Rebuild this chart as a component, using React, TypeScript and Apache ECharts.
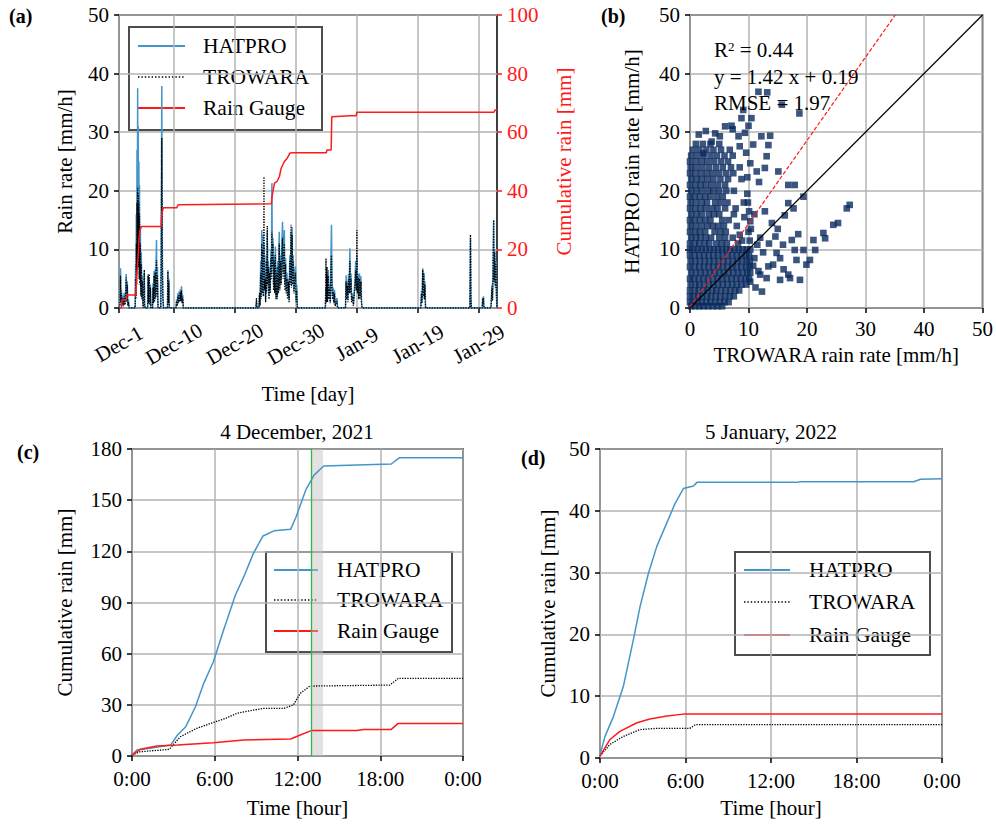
import React, { useEffect, useRef } from 'react';
import * as echarts from 'echarts';

const FONT = 'Liberation Serif';
const BLUE = '#4596c8';
const RED = '#ff1a1a';
const NAVY = '#0a2a5e';
const GRID_GRAY = '#b3b3b3';

// ---------- Panel (a): rain rate time series (x = days since 1 Dec 2021) ----------
const A_TICK_DAYS = [0, 9, 19, 29, 39, 49, 59];
const A_TICK_LABELS = ['Dec-1', 'Dec-10', 'Dec-20', 'Dec-30', 'Jan-9', 'Jan-19', 'Jan-29'];

const HATPRO_RATE: [number, number][] = [
  [0, 0], [0.15, 0.6], [0.25, 6.8], [0.32, 1.5], [0.4, 3.2], [0.48, 0.8], [0.58, 2.1], [0.7, 0.5], [0.85, 2.6], [0.95, 0.7], [1.05, 1.8], [1.18, 5.8], [1.26, 1.2], [1.35, 4.6], [1.45, 0.5], [1.55, 1.4], [1.65, 0],
  [2.65, 0], [2.72, 7.5], [2.78, 2], [2.84, 16], [2.9, 6], [2.95, 27], [3.0, 11], [3.06, 37.5], [3.11, 17], [3.16, 31], [3.21, 9], [3.26, 25], [3.31, 7], [3.36, 21], [3.42, 5], [3.5, 14], [3.58, 3], [3.66, 9.5], [3.74, 2], [3.82, 5.5], [3.9, 1], [4.0, 0],
  [4.1, 0], [4.15, 6.0], [4.2, 0.5], [4.3, 0],
  [4.7, 0], [4.78, 5.8], [4.85, 1], [4.95, 5.2], [5.05, 0.8], [5.15, 4.0], [5.22, 0],
  [5.5, 0], [5.58, 4.2], [5.65, 1], [5.75, 6.3], [5.82, 1.5], [5.92, 6.6], [6.0, 2], [6.08, 8], [6.15, 11.6], [6.22, 3], [6.3, 7], [6.4, 0],
  [6.85, 0], [6.92, 9], [6.97, 25], [7.02, 37.9], [7.07, 20], [7.12, 8], [7.2, 2], [7.3, 0],
  [7.95, 0], [8.02, 6.5], [8.1, 1], [8.18, 5], [8.25, 0],
  [9.35, 0], [9.45, 1.5], [9.55, 0.5], [9.65, 2.5], [9.75, 1], [9.85, 2.8], [9.95, 1.2], [10.05, 3.2], [10.15, 1.5], [10.25, 3.7], [10.35, 1], [10.45, 2.2], [10.55, 0],
  [22.45, 0], [22.55, 1.2], [22.62, 0],
  [22.95, 0], [23.05, 2.2], [23.12, 0.5], [23.25, 8], [23.32, 2], [23.42, 13.3], [23.5, 3], [23.6, 12.5], [23.68, 2], [23.78, 11], [23.85, 4], [23.95, 6], [24.05, 1.5], [24.15, 9], [24.22, 3], [24.32, 13], [24.4, 5], [24.5, 8], [24.6, 2], [24.7, 7], [24.8, 3], [24.92, 10], [25.0, 6], [25.08, 21.3], [25.15, 8], [25.25, 12], [25.35, 4], [25.45, 9], [25.55, 3], [25.65, 10.5], [25.75, 2], [25.85, 7], [25.95, 2], [26.05, 8], [26.15, 3], [26.28, 13], [26.38, 4], [26.5, 9], [26.6, 5], [26.72, 11], [26.82, 14.7], [26.92, 6], [27.02, 9], [27.12, 13.3], [27.2, 4], [27.32, 8.5], [27.42, 3], [27.55, 6], [27.65, 2], [27.78, 5], [27.9, 1.5], [28.02, 9], [28.12, 5], [28.22, 13], [28.3, 4], [28.4, 13.8], [28.48, 5], [28.58, 9], [28.7, 3], [28.82, 6], [28.95, 7.1], [29.05, 1.5], [29.15, 4], [29.25, 0],
  [33.85, 0], [33.95, 3.5], [34.02, 1], [34.12, 5], [34.2, 1.5], [34.32, 6.5], [34.42, 2], [34.55, 4], [34.65, 1], [34.75, 8], [34.85, 14.2], [34.93, 5], [35.02, 2], [35.12, 3.5], [35.22, 1], [35.35, 3.1], [35.45, 0.5], [35.6, 1], [35.75, 1.7], [35.85, 0],
  [37.15, 0], [37.25, 5.6], [37.33, 2], [37.45, 4.5], [37.55, 1.5], [37.65, 5.8], [37.75, 3], [37.87, 10.2], [37.95, 3], [38.05, 5.9], [38.15, 1.5], [38.3, 2.5], [38.45, 0.5], [38.6, 3], [38.72, 5], [38.82, 8], [38.92, 4], [39.02, 9], [39.1, 3], [39.22, 5.9], [39.32, 2], [39.45, 5.9], [39.55, 2], [39.68, 5.4], [39.78, 1], [39.88, 0],
  [49.5, 0], [49.62, 3], [49.7, 1], [49.82, 6.8], [49.9, 2.5], [50.0, 6], [50.08, 2], [50.18, 4.5], [50.28, 0],
  [57.55, 0], [57.65, 12.0], [57.72, 2], [57.8, 0],
  [59.58, 0], [59.65, 1.8], [59.72, 0.8], [59.78, 2], [59.85, 0],
  [61.0, 0], [61.1, 2], [61.18, 4], [61.26, 1.5], [61.35, 6], [61.45, 15.0], [61.52, 5], [61.62, 10], [61.72, 4], [61.82, 8], [61.92, 2], [62, 0],
];

const TROWARA_RATE: [number, number][] = [
  [0, 0], [0.15, 0.4], [0.25, 5.5], [0.32, 1], [0.4, 2.6], [0.48, 0.5], [0.58, 1.6], [0.7, 0.3], [0.85, 2], [0.95, 0.5], [1.05, 1.3], [1.18, 5.2], [1.26, 1], [1.35, 4], [1.45, 0.4], [1.55, 1], [1.65, 0],
  [2.65, 0], [2.72, 5], [2.78, 1.5], [2.84, 11], [2.9, 4], [2.95, 18], [3.0, 8], [3.06, 20.5], [3.11, 12], [3.16, 19.5], [3.21, 7], [3.26, 18], [3.31, 5], [3.36, 16], [3.42, 4], [3.5, 11], [3.58, 2], [3.66, 7.5], [3.74, 1.5], [3.82, 4.5], [3.9, 0.8], [4.0, 0],
  [4.1, 0], [4.15, 6.5], [4.2, 0.5], [4.3, 0],
  [4.7, 0], [4.78, 5.5], [4.85, 0.8], [4.95, 5.8], [5.05, 0.5], [5.15, 3.5], [5.22, 0],
  [5.5, 0], [5.58, 3.5], [5.65, 0.8], [5.75, 5.5], [5.82, 1], [5.92, 6], [6.0, 1.5], [6.08, 6.5], [6.15, 8.2], [6.22, 2], [6.3, 5.5], [6.4, 0],
  [6.85, 0], [6.92, 7], [6.97, 18], [7.02, 29], [7.07, 15], [7.12, 6], [7.2, 1.5], [7.3, 0],
  [7.95, 0], [8.02, 6.2], [8.1, 0.8], [8.18, 4.5], [8.25, 0],
  [9.35, 0], [9.45, 1.2], [9.55, 0.3], [9.65, 2], [9.75, 0.8], [9.85, 2.3], [9.95, 1], [10.05, 2.7], [10.15, 1.2], [10.25, 3.0], [10.35, 0.8], [10.45, 1.8], [10.55, 0],
  [22.45, 0], [22.55, 1.7], [22.62, 0],
  [22.95, 0], [23.05, 2.6], [23.12, 0.4], [23.25, 6], [23.32, 1.5], [23.42, 11], [23.5, 2.5], [23.6, 10], [23.68, 2], [23.78, 22.4], [23.85, 3], [23.95, 5], [24.05, 1], [24.15, 8], [24.22, 2.5], [24.32, 14], [24.4, 4], [24.5, 7], [24.6, 1.5], [24.7, 6], [24.8, 2.5], [24.92, 8.5], [25.0, 5], [25.08, 13], [25.15, 7], [25.25, 11], [25.35, 3], [25.45, 8], [25.55, 2.5], [25.65, 9], [25.75, 1.5], [25.85, 6], [25.95, 1.5], [26.05, 7], [26.15, 2.5], [26.28, 11], [26.38, 3], [26.5, 8], [26.6, 4], [26.72, 9.5], [26.82, 12], [26.92, 5], [27.02, 8], [27.12, 11], [27.2, 3], [27.32, 7.5], [27.42, 2.5], [27.55, 5], [27.65, 1.5], [27.78, 4.5], [27.9, 1], [28.02, 8], [28.12, 4], [28.22, 14.2], [28.3, 3.5], [28.4, 12.5], [28.48, 4], [28.58, 8], [28.7, 2.5], [28.82, 5], [28.95, 6], [29.05, 1], [29.15, 3], [29.25, 0],
  [33.85, 0], [33.95, 8.5], [34.02, 1], [34.12, 7], [34.2, 1], [34.32, 5.5], [34.42, 1.5], [34.55, 3.5], [34.65, 0.8], [34.75, 6], [34.85, 9], [34.93, 3.5], [35.02, 1.5], [35.12, 2.8], [35.22, 0.8], [35.35, 2.5], [35.45, 0.3], [35.6, 0.8], [35.75, 1.2], [35.85, 0],
  [37.15, 0], [37.25, 4.5], [37.33, 1.5], [37.45, 3.8], [37.55, 1], [37.65, 5], [37.75, 2.5], [37.87, 8], [37.95, 2.5], [38.05, 5], [38.15, 1], [38.3, 2], [38.45, 0.4], [38.6, 2.5], [38.72, 4], [38.82, 6.5], [38.92, 3], [39.02, 13.3], [39.1, 2.5], [39.22, 5.2], [39.32, 1.5], [39.45, 5], [39.55, 1.5], [39.68, 4.5], [39.78, 0.8], [39.88, 0],
  [49.5, 0], [49.62, 2.5], [49.7, 0.8], [49.82, 6.5], [49.9, 2], [50.0, 5.8], [50.08, 1.5], [50.18, 4], [50.28, 0],
  [57.55, 0], [57.65, 12.5], [57.72, 1.5], [57.8, 0],
  [59.58, 0], [59.65, 1.6], [59.72, 0.6], [59.78, 1.8], [59.85, 0],
  [61.0, 0], [61.1, 1.8], [61.18, 3.5], [61.26, 1.2], [61.35, 5.5], [61.45, 15.0], [61.52, 4.5], [61.62, 9.5], [61.72, 3.5], [61.82, 7.5], [61.92, 1.5], [62, 0],
];

const GAUGE_CUM: [number, number][] = [
  [0, 0], [0.4, 0], [0.5, 2.7], [1.2, 2.7], [1.3, 4.4], [2.75, 4.4], [2.9, 10.7], [3.17, 18.7], [3.3, 23.9], [3.44, 26.6], [3.7, 27.8],
  [6.9, 27.8], [7.0, 32], [7.27, 34.2], [9.45, 34.2], [9.7, 35.2], [25.0, 35.6], [25.1, 38], [25.5, 42.6], [25.9, 43.1], [26.3, 44.8],
  [26.6, 47.7], [27.1, 49.9], [27.6, 51.1], [28.0, 52.8], [28.4, 53.0], [34.0, 53.0], [34.1, 53.9], [34.8, 53.9], [34.9, 65.3],
  [37.9, 65.6], [38.9, 65.6], [39.0, 66.8], [61.5, 66.8], [61.7, 67.6], [62, 67.6],
];

// ---------- Panel (b): scatter, rows of [HATPRO value, TROWARA values] ----------
const SCATTER_ROWS: [number, number[]][] = [
  [0.3, [0.2, 0.9, 1.6, 2.3, 3.1, 3.9, 4.7, 5.5]],
  [1.0, [0, 0.6, 1.3, 2.0, 2.8, 3.5, 4.3, 5.1, 5.9, 6.6]],
  [2.0, [0, 0.7, 1.4, 2.1, 2.9, 3.6, 4.4, 5.2, 6.0, 6.8, 7.5]],
  [3.0, [0, 0.8, 1.5, 2.3, 3.0, 3.8, 4.5, 5.3, 6.1, 6.9, 7.7, 8.4]],
  [4.0, [0.1, 0.9, 1.6, 2.4, 3.2, 4.0, 4.8, 5.6, 6.4, 7.2, 8.0, 8.8, 9.6]],
  [5.0, [0, 0.7, 1.5, 2.3, 3.1, 3.9, 4.7, 5.5, 6.3, 7.1, 7.9, 8.7, 9.5, 10.1]],
  [6.0, [0.2, 1.0, 1.8, 2.6, 3.4, 4.2, 5.0, 5.8, 6.6, 7.4, 8.2, 9.0, 9.8, 10.3]],
  [7.0, [0, 0.8, 1.6, 2.4, 3.2, 4.0, 4.8, 5.6, 6.4, 7.2, 8.0, 8.8, 9.6, 10.2]],
  [8.0, [0.1, 0.9, 1.7, 2.5, 3.3, 4.1, 4.9, 5.7, 6.5, 7.3, 8.1, 8.9, 9.7, 10.2]],
  [9.0, [0, 0.8, 1.6, 2.4, 3.2, 4.0, 4.8, 5.6, 6.4, 7.2, 8.0, 8.8, 9.6, 10.1]],
  [10.0, [0, 0.6, 1.3, 2.0, 2.7, 3.4, 4.1, 4.8, 5.5, 6.2, 6.9, 7.6, 8.3, 9.0, 9.7, 10.3]],
  [11.0, [0, 0.8, 1.6, 2.5, 3.3, 4.5, 5.4, 6.3, 8.2]],
  [12.0, [0.2, 1.0, 1.8, 2.7, 3.6, 5.0, 6.0, 7.3]],
  [13.0, [0, 0.9, 1.7, 2.6, 4.2, 5.2, 6.1]],
  [14.0, [0.1, 1.0, 2.0, 3.0, 3.9, 4.8, 5.8, 8.0]],
  [15.0, [0, 0.8, 1.7, 2.6, 3.5, 5.5, 6.6]],
  [16.0, [0.2, 1.1, 2.0, 3.2, 4.1, 5.0, 7.5]],
  [17.0, [0, 0.9, 1.8, 2.7, 3.8, 4.7, 6.0]],
  [18.0, [0.1, 1.0, 2.0, 2.9, 4.3, 5.3, 6.4, 9.2]],
  [19.0, [0, 0.8, 1.7, 2.6, 3.5, 4.6, 5.6]],
  [20.0, [0.2, 1.1, 2.0, 3.1, 4.0, 5.0, 6.2, 7.5]],
  [21.0, [0, 0.9, 1.8, 2.7, 3.7, 4.8, 6.0]],
  [22.0, [0.2, 1.1, 2.0, 3.0, 4.0, 5.2, 6.5, 8.8]],
  [23.0, [0, 0.9, 1.9, 2.9, 3.9, 5.0, 6.2, 7.4]],
  [24.0, [0.1, 1.0, 2.1, 3.2, 4.4, 5.6, 7.0, 8.5]],
  [25.0, [0, 1.0, 2.0, 3.0, 4.1, 5.3, 6.5]],
  [26.0, [0.2, 1.2, 2.3, 3.5, 4.6, 5.9, 7.3]],
  [27.0, [0.5, 1.6, 2.8, 4.0, 5.3, 6.8]],
  [28.0, [1.0, 2.2, 3.5, 5.0]],
];
// isolated points as [TROWARA, HATPRO]
const SCATTER_EXTRA: [number, number][] = [
  [6.0, 31], [7.1, 31.1], [10, 31.1], [8.8, 32.4], [10.5, 32.4], [9.1, 33.8], [15.7, 34.7], [18.7, 33.2], [11.7, 36.9], [13.2, 36.8],
  [1.5, 29.6], [2.7, 30.2], [4.3, 29.8], [7.3, 30.5], [9.4, 29.9], [5.1, 29.3], [3.7, 28.4], [2.3, 26.4],
  [10.3, 24.7], [11.4, 23.3], [12.8, 23.9], [13.1, 25.9], [13.4, 27.8], [13.7, 29.4], [12.2, 29.3], [8.5, 27.6], [8.3, 29.3], [9.6, 26.5], [10.8, 27.9], [11.8, 21.5], [9.8, 22.3], [15.1, 23.3],
  [8.5, 12.5], [9.3, 15.5], [7.8, 17], [9.8, 19.5], [10.4, 13.5], [11, 16], [8.9, 11.5], [10.2, 11.5], [10.0, 13], [10.3, 14.8], [10.1, 16.5], [9.9, 18],
  [16.8, 21.0], [17.9, 21.0], [19.4, 19.0], [16.8, 17.9], [27.3, 17.6], [26.8, 17.0], [17.7, 17.0], [25.3, 14.5], [24.5, 14.2], [22.8, 12.8], [23.1, 11.9],
  [21.1, 11.6], [17.4, 11.6], [15.9, 10.8], [19.4, 9.9], [21.4, 9.9], [17.9, 9.9], [20.5, 8.2], [18.2, 8.2], [15.4, 8.5], [14.2, 7.4], [13.4, 7.1],
  [19.9, 7.4], [16.8, 5.7], [15.4, 4.8], [18.8, 4.8], [17.1, 5.1], [12.0, 5.7], [11.7, 6.3], [13.1, 5.1], [10.3, 4.5], [11, 8.5], [12.5, 9.5],
  [13.5, 11], [14.6, 12.2], [15, 13.5], [12, 12], [11.5, 10.8], [16.2, 15.8], [14, 14.5], [11.2, 3.5], [12.3, 2.8], [16, 6.6], [14.8, 9.4],
  [18.5, 12.6], [12.8, 16.5], [10.8, 7.2],
];
const ONE_TO_ONE: [number, number][] = [[0, 0], [50, 50]];
const FIT_SLOPE = 1.42;
const FIT_INTERCEPT = 0.19;
const FIT_LINE: [number, number][] = [[0, FIT_INTERCEPT], [(50 - FIT_INTERCEPT) / FIT_SLOPE, 50]];
const STATS_TEXT = ['R{sup|2} = 0.44', 'y = 1.42 x + 0.19', 'RMSE = 1.97'];

// ---------- Panel (c): 4 December 2021 (x = hour) ----------
const C_HATPRO: [number, number][] = [
  [0, 0.6], [0.36, 3.5], [1.3, 4.5], [2.8, 6.4], [3.3, 12.3], [3.9, 17.2], [4.6, 28.9], [5.2, 42.6], [5.9, 55.3], [6.6, 72.9], [7.5, 94.4],
  [8.1, 105], [8.8, 118.8], [9.5, 129], [10.3, 132], [11.5, 132.9], [11.9, 140.3], [12.6, 156], [13.2, 164.7], [13.9, 170], [16.3, 170.6],
  [18.8, 171.2], [19.4, 174.9], [24, 174.9],
];
const C_TROWARA: [number, number][] = [
  [0, 0.5], [0.6, 2.5], [2.7, 3.9], [3.5, 11.3], [4.7, 16.2], [5.7, 19.1], [6.8, 22.1], [7.6, 25], [8.6, 26.6], [9.5, 27.9], [11, 27.9],
  [11.7, 29.9], [12.2, 36.7], [12.9, 41], [18.7, 41.6], [19.3, 45.5], [24, 45.5],
];
const C_GAUGE: [number, number][] = [
  [0, 0.5], [0.6, 3.9], [1.8, 5.9], [3.3, 6.4], [5.9, 7.8], [8.1, 9.4], [11.5, 10], [12.2, 12.3], [13, 14.9], [16.3, 14.9], [16.8, 15.6],
  [18.8, 15.6], [19.3, 19.1], [24, 19.1],
];
const C_EVENT_START = 13.0;
const C_EVENT_END = 13.85;

// ---------- Panel (d): 5 January 2022 (x = hour) ----------
const D_HATPRO: [number, number][] = [
  [0, 0.5], [0.35, 3.5], [0.94, 6.7], [1.64, 11.6], [2.34, 19.1], [2.81, 24.5], [3.4, 29.9], [3.98, 34.2], [4.68, 38], [5.27, 41.2],
  [5.85, 43.6], [6.56, 44], [6.8, 44.6], [13.8, 44.6], [14.05, 44.7], [22, 44.7], [22.5, 45.1], [24, 45.2],
];
const D_TROWARA: [number, number][] = [
  [0, 0.3], [0.7, 2.2], [1.64, 3.5], [2.8, 4.6], [4, 4.8], [6.3, 4.8], [6.7, 5.4], [24, 5.4],
];
const D_GAUGE: [number, number][] = [
  [0, 0.3], [0.7, 3.0], [1.4, 4.3], [2.6, 5.7], [3.5, 6.3], [4.7, 6.8], [5.85, 7.1], [24, 7.1],
];

const LEGEND_NAMES = ['HATPRO', 'TROWARA', 'Rain Gauge'];

const FS = 21;
const TXT = { fontFamily: FONT, fontSize: FS, fontWeight: 'normal', fontStyle: 'normal', color: '#000' };

function baseAxis(extra: any) {
  return {
    type: 'value',
    nameLocation: 'middle',
    nameTextStyle: { ...TXT },
    axisLine: { show: false },
    axisTick: { show: true, inside: false, length: 5, lineStyle: { color: '#000', width: 1.5 } },
    axisLabel: { ...TXT, margin: 10 },
    splitLine: { show: true, lineStyle: { color: GRID_GRAY, width: 1.5 } },
    ...extra,
  };
}

const hatStyle = { color: BLUE, width: 1.5, type: 'solid' };
const troStyle = { color: '#000', width: 1.3, type: 'dotted' };
const gaugeStyle = { color: RED, width: 1.5, type: 'solid' };
const LEGEND_STYLES = [
  { stroke: BLUE, lineWidth: 1.8, lineDash: null },
  { stroke: '#000', lineWidth: 1.4, lineDash: [1.4, 2] },
  { stroke: RED, lineWidth: 1.8, lineDash: null },
];

function lineSeries(name: string, data: [number, number][], xi: number, yi: number, style: any, extra: any = {}) {
  return {
    name, type: 'line', xAxisIndex: xi, yAxisIndex: yi, data, symbol: 'none', showSymbol: false,
    lineStyle: style, itemStyle: { color: style.color }, color: style.color, z: 3, ...extra,
  };
}

// box: [x, y, w, h], line from lx1 to lx2, text at tx, rows at ys
function legendBox(box: number[], lx1: number, lx2: number, tx: number, ys: number[]) {
  const children: any[] = [
    { type: 'rect', shape: { x: box[0], y: box[1], width: box[2], height: box[3] }, style: { fill: 'rgba(255,255,255,0.8)', stroke: '#4d4d4d', lineWidth: 2 } },
  ];
  LEGEND_NAMES.forEach((n, i) => {
    const st: any = { stroke: LEGEND_STYLES[i].stroke, lineWidth: LEGEND_STYLES[i].lineWidth };
    if (LEGEND_STYLES[i].lineDash) st.lineDash = LEGEND_STYLES[i].lineDash;
    children.push({ type: 'line', shape: { x1: lx1, y1: ys[i], x2: lx2, y2: ys[i] }, style: st });
    children.push({ type: 'text', x: tx, y: ys[i], style: { text: n, fontFamily: FONT, fontSize: 21.5, fill: '#000', verticalAlign: 'middle', align: 'left' } });
  });
  return { type: 'group', z: 20, children };
}

export default function App() {
  const ref = useRef<HTMLDivElement>(null);
  useEffect(() => {
    if (!ref.current) return;
    const chart = echarts.init(ref.current, null, { renderer: 'svg' });
    const scatterData: [number, number][] = [];
    SCATTER_ROWS.forEach(([y, xs]) => xs.forEach((x) => scatterData.push([x, y])));
    SCATTER_EXTRA.forEach((p) => scatterData.push(p));

    const titleStyle = { fontFamily: FONT, fontSize: 20, fontWeight: 'bold', color: '#000' };
    const headStyle = { fontFamily: FONT, fontSize: 21, fontWeight: 'normal', color: '#000' };

    const option: any = {
      animation: false,
      backgroundColor: '#fff',
      textStyle: { fontFamily: FONT },
      title: [
        { text: '(a)', left: 9, top: 6, padding: 0, textStyle: titleStyle },
        { text: '(b)', left: 601, top: 6, padding: 0, textStyle: titleStyle },
        { text: '(c)', left: 17, top: 442, padding: 0, textStyle: titleStyle },
        { text: '(d)', left: 521, top: 448, padding: 0, textStyle: titleStyle },
        { text: '4 December, 2021', left: 297, top: 421, padding: 0, textAlign: 'center', textStyle: headStyle },
        { text: '5 January, 2022', left: 771, top: 421, padding: 0, textAlign: 'center', textStyle: headStyle },
      ],
      grid: [
        { left: 119, top: 15, width: 378, height: 293, show: true, borderColor: '#000', borderWidth: 1.5, backgroundColor: 'transparent' },
        { left: 690, top: 15, width: 293, height: 293, show: true, borderColor: '#000', borderWidth: 1.5, backgroundColor: 'transparent' },
        { left: 132, top: 449, width: 331, height: 307, show: true, borderColor: '#000', borderWidth: 1.5, backgroundColor: 'transparent' },
        { left: 600, top: 449, width: 342, height: 309, show: true, borderColor: '#000', borderWidth: 1.5, backgroundColor: 'transparent' },
      ],
      xAxis: [
        baseAxis({
          gridIndex: 0, min: 0, max: 62, name: 'Time [day]', nameGap: 75,
          axisTick: { show: true, inside: false, length: 5, lineStyle: { color: '#000', width: 1.5 }, customValues: A_TICK_DAYS },
          axisLabel: {
            ...TXT, customValues: A_TICK_DAYS, rotate: 30, align: 'center', verticalAlign: 'middle', margin: 36,
            formatter: (v: number) => { const i = A_TICK_DAYS.indexOf(Math.round(v)); return i >= 0 ? A_TICK_LABELS[i] : ''; },
          },
        }),
        baseAxis({ gridIndex: 1, min: 0, max: 50, interval: 10, name: 'TROWARA rain rate [mm/h]', nameGap: 36 }),
        baseAxis({
          gridIndex: 2, min: 0, max: 24, interval: 6, name: 'Time [hour]', nameGap: 41,
          axisLabel: { ...TXT, margin: 12, formatter: (v: number) => `${v % 24}:00` },
        }),
        baseAxis({
          gridIndex: 3, min: 0, max: 24, interval: 6, name: 'Time [hour]', nameGap: 39,
          axisLabel: { ...TXT, margin: 12, formatter: (v: number) => `${v % 24}:00` },
        }),
      ],
      yAxis: [
        baseAxis({ gridIndex: 0, min: 0, max: 50, interval: 10, name: 'Rain rate [mm/h]', nameGap: 44, nameRotate: 90 }),
        baseAxis({
          gridIndex: 0, position: 'right', min: 0, max: 100, interval: 20, name: 'Cumulative rain [mm]', nameGap: 56, nameRotate: 90,
          nameTextStyle: { ...TXT, color: RED },
          axisTick: { show: true, inside: false, length: 5, lineStyle: { color: RED, width: 1.5 } },
          axisLabel: { ...TXT, color: RED, margin: 10 },
          splitLine: { show: false },
        }),
        baseAxis({ gridIndex: 1, min: 0, max: 50, interval: 10, name: 'HATPRO rain rate [mm/h]', nameGap: 48, nameRotate: 90 }),
        baseAxis({ gridIndex: 2, min: 0, max: 180, interval: 30, name: 'Cumulative rain [mm]', nameGap: 57, nameRotate: 90 }),
        baseAxis({ gridIndex: 3, min: 0, max: 50, interval: 10, name: 'Cumulative rain [mm]', nameGap: 42, nameRotate: 90 }),
      ],
      series: [
        lineSeries('HATPRO', HATPRO_RATE, 0, 0, hatStyle),
        lineSeries('TROWARA', TROWARA_RATE, 0, 0, troStyle),
        lineSeries('Rain Gauge', GAUGE_CUM, 0, 1, gaugeStyle),
        {
          name: 'scatter', type: 'scatter', xAxisIndex: 1, yAxisIndex: 2, data: scatterData,
          symbol: 'rect', symbolSize: 6.6, itemStyle: { color: NAVY }, z: 2,
        },
        lineSeries('1:1', ONE_TO_ONE, 1, 2, { color: '#000', width: 1.2, type: 'solid' }),
        lineSeries('fit', FIT_LINE, 1, 2, { color: RED, width: 1.2, type: [4, 2] }),
        lineSeries('HATPRO', C_HATPRO, 2, 3, hatStyle, {
          markArea: { silent: true, itemStyle: { color: 'rgba(190,190,190,0.45)' }, data: [[{ xAxis: C_EVENT_START }, { xAxis: C_EVENT_END }]] },
          markLine: { silent: true, symbol: 'none', label: { show: false }, lineStyle: { color: '#3cb04a', width: 1.3, type: 'solid' }, data: [{ xAxis: C_EVENT_START }] },
        }),
        lineSeries('TROWARA', C_TROWARA, 2, 3, troStyle),
        lineSeries('Rain Gauge', C_GAUGE, 2, 3, gaugeStyle),
        lineSeries('HATPRO', D_HATPRO, 3, 4, hatStyle),
        lineSeries('TROWARA', D_TROWARA, 3, 4, troStyle),
        lineSeries('Rain Gauge', D_GAUGE, 3, 4, gaugeStyle),
      ],
      graphic: [
        ...STATS_TEXT.map((t, i) => ({
          type: 'text', x: 714, y: 50 + i * 26.5, z: 10,
          style: {
            text: t, fontFamily: FONT, fontSize: FS, fill: '#000', verticalAlign: 'middle',
            rich: { sup: { fontSize: 13, verticalAlign: 'top', fontFamily: FONT, fill: '#000' } },
          },
        })),
        legendBox([129, 27, 193, 103], 138, 185, 203, [46, 77, 108]),
        legendBox([266, 552, 186, 100], 274, 318, 337, [570, 600, 631]),
        legendBox([735, 552, 195, 103], 744, 790, 809, [570, 602, 635]),
      ],
    };
    chart.setOption(option);
    return () => chart.dispose();
  }, []);
  return <div ref={ref} style={{ position: 'fixed', left: 0, top: 0, width: 996, height: 825, background: '#fff' }} />;
}
